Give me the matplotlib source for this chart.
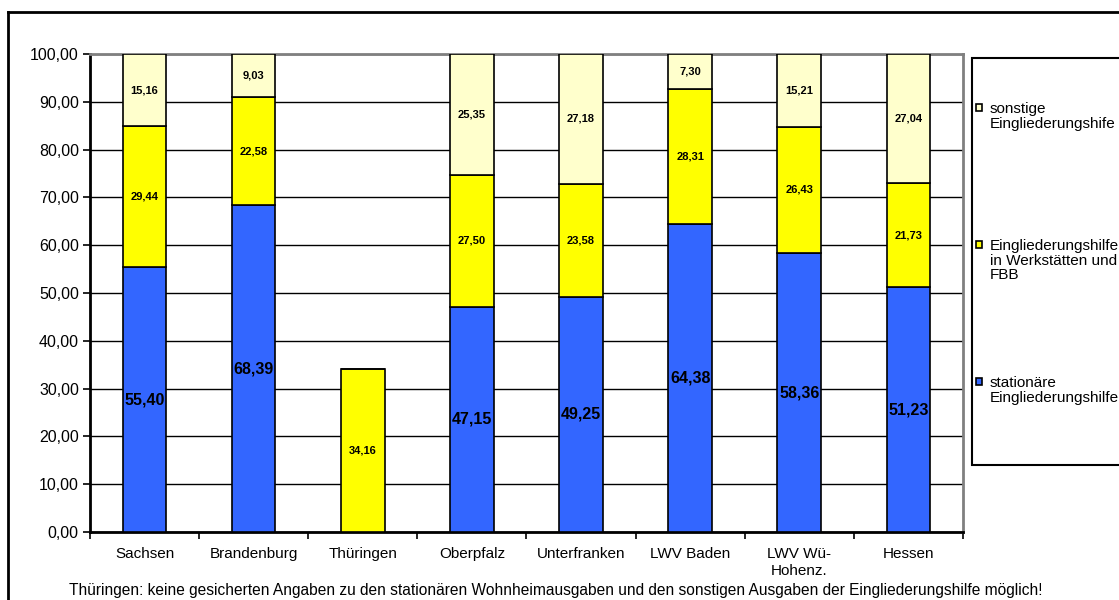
import numpy as np
import matplotlib.pyplot as plt
from matplotlib.patches import Rectangle
from matplotlib.lines import Line2D

plt.rcParams['font.family'] = ['Liberation Sans', 'DejaVu Sans']

# === Data ===
regions = ["Sachsen", "Brandenburg", "Thüringen", "Oberpfalz", "Unterfranken",
           "LWV Baden", "LWV Wü-\nHohenz.", "Hessen"]
stationaer = [55.40, 68.39, 0.0, 47.15, 49.25, 64.38, 58.36, 51.23]
werkstaetten = [29.44, 22.58, 34.16, 27.50, 23.58, 28.31, 26.43, 21.73]
sonstige = [15.16, 9.03, 0.0, 25.35, 27.18, 7.30, 15.21, 27.04]
series_names = ["sonstige\nEingliederungshife",
                "Eingliederungshilfe\nin Werkstätten und\nFBB",
                "stationäre\nEingliederungshilfe"]
colors = {"stat": "#3366FF", "werk": "#FFFF00", "sonst": "#FFFFCC"}
footnote = ("Thüringen: keine gesicherten Angaben zu den stationären Wohnheimausgaben "
            "und den sonstigen Ausgaben der Eingliederungshilfe möglich!")

fig = plt.figure(figsize=(11.19, 6.0), dpi=100)
ax = fig.add_axes([0.0804, 0.1133, 0.7802, 0.7967])

x = np.arange(len(regions))
w = 0.4
stat = np.array(stationaer)
werk = np.array(werkstaetten)
sonst = np.array(sonstige)

ax.bar(x, stat, w, color=colors["stat"], edgecolor="black", linewidth=1.2, zorder=3)
ax.bar(x, werk, w, bottom=stat, color=colors["werk"], edgecolor="black", linewidth=1.2, zorder=3)
ax.bar(x, sonst, w, bottom=stat + werk, color=colors["sonst"], edgecolor="black", linewidth=1.2, zorder=3)

def fmt(v):
    return f"{v:.2f}".replace(".", ",")

for i in range(len(regions)):
    if stat[i] > 0:
        ax.text(x[i], stat[i] / 2, fmt(stat[i]), ha="center", va="center",
                fontsize=11.5, fontweight="bold", zorder=4)
    if werk[i] > 0:
        ax.text(x[i], stat[i] + werk[i] / 2, fmt(werk[i]), ha="center", va="center",
                fontsize=8, fontweight="bold", zorder=4)
    if sonst[i] > 0:
        ax.text(x[i], stat[i] + werk[i] + sonst[i] / 2, fmt(sonst[i]), ha="center",
                va="center", fontsize=8, fontweight="bold", zorder=4)

ax.set_xlim(-0.5, len(regions) - 0.5)
ax.set_ylim(0, 100)
ax.set_yticks(np.arange(0, 101, 10))
ax.set_yticklabels([fmt(v) for v in np.arange(0, 101, 10)], fontsize=11.5)
ax.yaxis.grid(True, color="black", linewidth=1.0, zorder=0)
ax.set_axisbelow(True)

ax.set_xticks(x)
ax.set_xticklabels(regions, fontsize=11, va="top", linespacing=1.25)
ax.tick_params(axis="x", length=0, pad=11)
ax.set_xticks(np.arange(-0.5, len(regions), 1), minor=True)
ax.tick_params(axis="x", which="minor", length=5, width=1.2, direction="out")
ax.tick_params(axis="y", length=5, width=1.2, direction="out", pad=3)

for side in ["top", "right"]:
    ax.spines[side].set_color("#808080")
    ax.spines[side].set_linewidth(2)
for side in ["left", "bottom"]:
    ax.spines[side].set_color("black")
    ax.spines[side].set_linewidth(2)

# outer chart frame
fig.add_artist(Line2D([8 / 1119, 8 / 1119], [0, 1 - 12 / 600], transform=fig.transFigure,
                      color="black", linewidth=2))
fig.add_artist(Line2D([8 / 1119, 1.0], [1 - 12 / 600, 1 - 12 / 600], transform=fig.transFigure,
                      color="black", linewidth=2))

# legend box
fig.add_artist(Rectangle((972 / 1119, 1 - 465 / 600), 0.2, (465 - 58) / 600,
                         transform=fig.transFigure, facecolor="white", edgecolor="black",
                         linewidth=1.5))
leg_colors = [colors["sonst"], colors["werk"], colors["stat"]]
leg_y = [107, 244, 381]
for name, c, yy in zip(series_names, leg_colors, leg_y):
    fig.add_artist(Rectangle((976 / 1119, 1 - (yy + 4) / 600), 6 / 1119, 7 / 600,
                             transform=fig.transFigure, facecolor=c, edgecolor="black",
                             linewidth=1.2))
    fig.text(990 / 1119, 1 - (yy - 5) / 600, name, fontsize=11, va="top", ha="left",
             linespacing=1.05)

fig.text(556 / 1119, 1 - 590 / 600, footnote, fontsize=11.2, ha="center", va="center")

fig.savefig("out.png", dpi=100)
